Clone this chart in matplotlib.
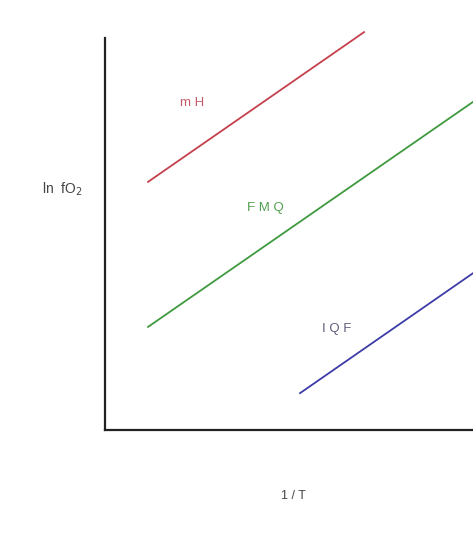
import matplotlib
matplotlib.use("Agg")
import matplotlib.pyplot as plt

# --- Buffer lines (arbitrary units) ---
inv_t = {
    "mH": [1.17, 7.04],
    "FMQ": [1.17, 10.0],
    "IQF": [5.30, 10.0],
}
ln_fo2 = {
    "mH": [6.33, 10.15],
    "FMQ": [2.63, 8.37],
    "IQF": [0.94, 4.00],
}
line_colors = {"mH": "#c4404c", "FMQ": "#3f9a3f", "IQF": "#3c3ca8"}
text_colors = {"mH": "#c45a68", "FMQ": "#52a052", "IQF": "#60607c"}
label_text = {"mH": "m H", "FMQ": "F M Q", "IQF": "I Q F"}
label_pos = {"mH": (2.36, 8.34), "FMQ": (4.37, 5.66), "IQF": (6.30, 2.58)}

plt.rcParams["font.family"] = ["Liberation Sans", "DejaVu Sans"]

fig = plt.figure(figsize=(4.73, 5.36), dpi=100)
ax = fig.add_axes([105 / 473, 1 - 430 / 536, 1 - 105 / 473, (430 - 38) / 536])

for key in inv_t:
    ax.plot(inv_t[key], ln_fo2[key], color=line_colors[key], lw=1.3, clip_on=False)
    x, y = label_pos[key]
    ax.text(x, y, label_text[key], color=text_colors[key], fontsize=9.5,
            ha="center", va="center")

ax.set_xlim(0, 10)
ax.set_ylim(0, 10)
ax.set_xticks([])
ax.set_yticks([])
for side in ["top", "right"]:
    ax.spines[side].set_visible(False)
for side in ["left", "bottom"]:
    ax.spines[side].set_linewidth(1.6)
    ax.spines[side].set_color("#222222")

fig.text(62 / 473, 1 - 189 / 536, r"ln  fO$_2$", fontsize=10, color="#444444",
         ha="center", va="center")
fig.text(293 / 473, 1 - 496 / 536, "1 / T", fontsize=9, color="#444444",
         ha="center", va="center")

fig.savefig("out.png", dpi=100)
